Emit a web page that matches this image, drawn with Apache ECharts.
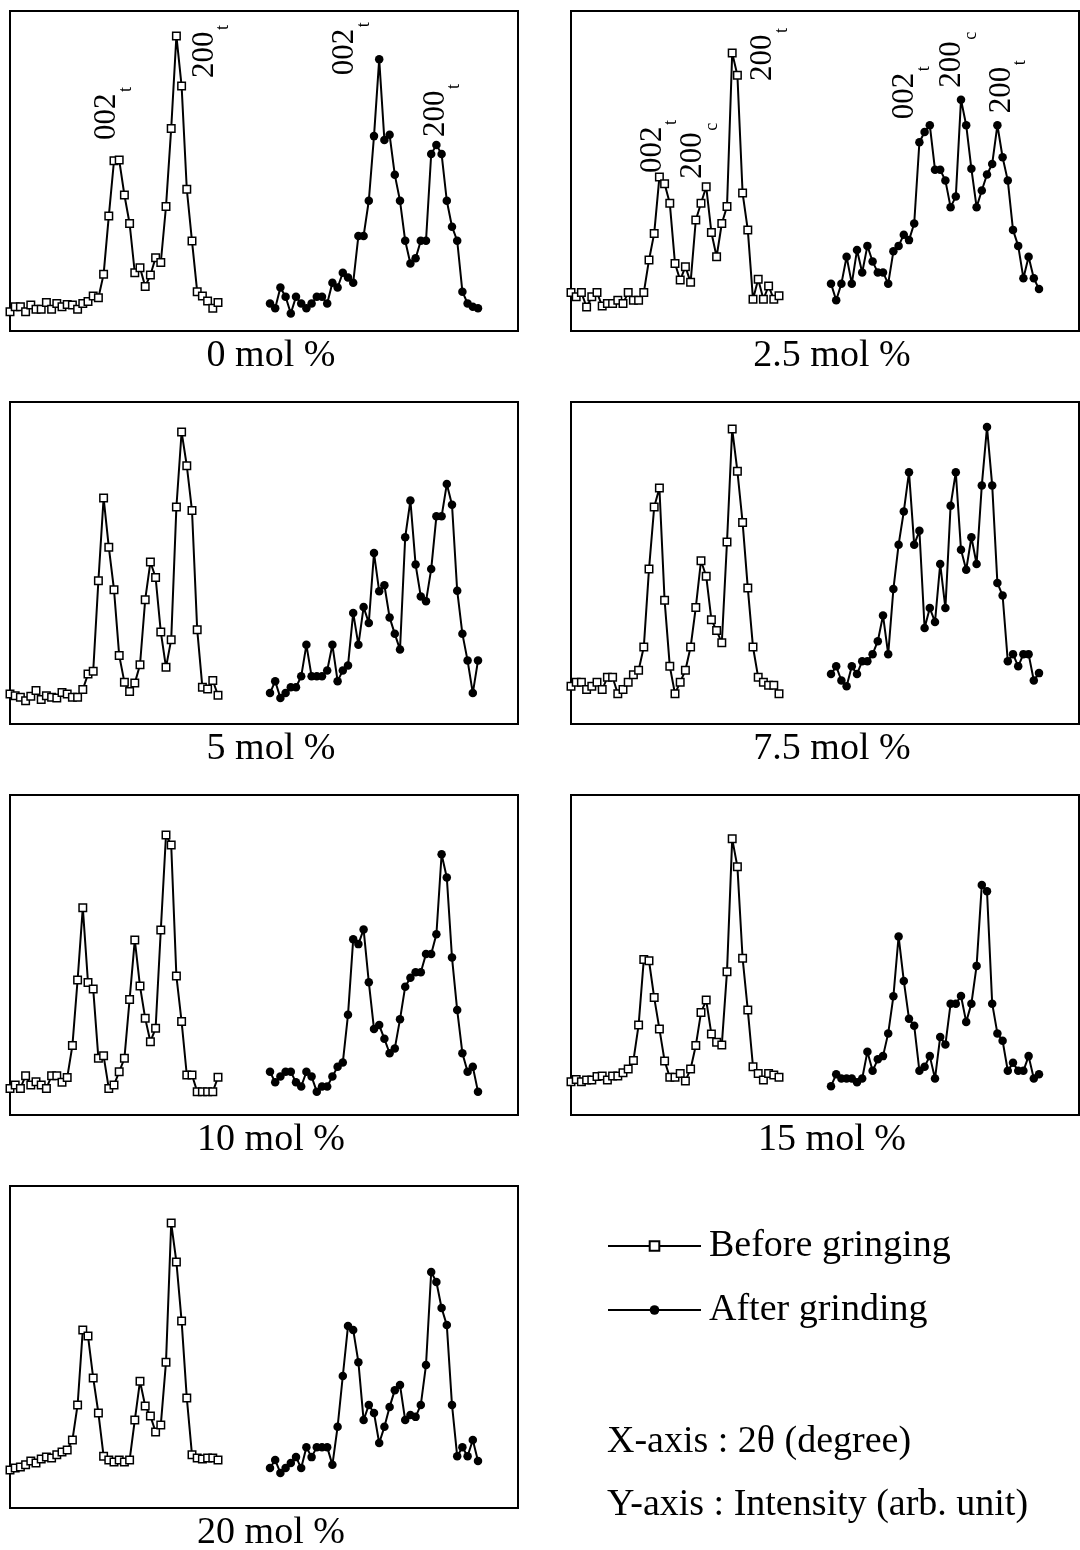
<!DOCTYPE html>
<html><head><meta charset="utf-8">
<script src="https://cdn.jsdelivr.net/npm/echarts@6/dist/echarts.min.js"></script>
<style>html,body{margin:0;padding:0;background:#fff}#c{width:1080px;height:1550px}</style>
</head><body><div id="c"></div>
<script>
// Panel captions (composition)
const categories = ['0 mol %','2.5 mol %','5 mol %','7.5 mol %','10 mol %','15 mol %','20 mol %'];
const seriesNames = ['Before gringing','After grinding'];
const axisTexts = ['X-axis : 2\u03b8 (degree)','Y-axis : Intensity (arb. unit)'];

// Intensities (arb. unit), one value per 2θ step
const before0  = [6.0,7.6,7.6,6.0,8.1,6.8,6.8,8.9,6.8,8.6,7.6,8.3,8.1,6.8,8.6,9.2,10.9,10.4,17.7,35.9,53.2,53.4,42.5,33.6,18.2,19.8,13.9,17.5,22.9,21.4,38.9,63.3,92.2,76.6,44.3,28.1,12.3,10.9,9.4,7.1,8.9];
const after0   = [8.6,7.1,13.6,10.7,5.5,10.7,8.6,7.1,8.6,10.7,10.7,8.6,15.1,13.6,18.2,16.7,15.1,29.7,29.7,40.7,60.9,84.9,59.7,61.3,48.8,40.7,28.2,21.1,22.7,28.2,28.2,55.3,58.1,55.3,40.7,32.6,28.2,12.3,8.6,7.6,7.1];
const before25 = [12.0,10.7,12.0,7.5,10.7,12.0,7.8,8.6,8.6,9.6,8.6,12.0,9.6,9.6,12.0,22.2,30.5,48.1,46.0,39.9,21.1,15.9,20.1,15.2,34.7,39.9,45.1,30.8,23.2,33.6,38.9,86.9,79.9,43.1,31.6,9.9,16.2,9.9,14.1,9.9,11.0];
const after25  = [14.8,9.6,14.8,23.2,14.8,25.3,18.3,26.6,21.7,18.3,18.3,14.8,24.9,26.6,30.1,28.4,33.6,59.0,62.2,64.3,50.4,50.4,47.0,38.7,42.0,72.3,64.3,50.7,38.7,43.9,48.9,52.2,64.3,54.3,47.0,31.6,26.6,16.5,23.2,16.5,13.1];
const before5  = [9.3,8.8,8.3,7.2,8.6,10.4,7.6,8.8,8.3,8.1,9.8,9.3,8.3,8.3,10.7,15.5,16.4,44.5,70.2,54.9,41.7,21.3,13.0,10.1,12.7,18.4,38.6,50.3,45.5,28.6,17.6,26.2,67.4,90.7,80.2,66.3,29.3,11.4,10.9,13.5,8.9];
const after5   = [9.6,13.3,8.1,9.6,11.4,11.4,14.8,24.6,14.8,14.8,14.8,16.6,24.6,13.3,16.6,18.2,34.5,24.6,36.3,31.4,53.1,41.2,43.1,33.1,28.0,23.1,58.0,69.4,49.5,39.6,38.1,48.1,64.5,64.5,74.5,68.1,41.4,28.0,19.7,9.6,19.7];
const before75 = [11.7,13.0,13.0,10.7,11.7,13.0,10.7,14.5,14.5,9.4,10.7,13.0,15.3,16.7,23.9,48.1,67.4,73.3,38.4,17.9,9.4,13.0,16.7,23.9,36.2,50.7,45.9,32.4,29.0,25.2,56.5,91.6,78.5,62.6,42.2,23.9,14.5,13.0,12.0,12.0,9.4];
const after75  = [15.5,17.9,13.5,11.7,17.9,15.5,19.5,19.5,21.7,25.7,33.7,21.7,41.9,55.7,66.0,78.2,55.7,60.0,29.8,36.0,31.7,49.7,36.0,67.8,78.2,54.1,47.9,58.0,49.7,74.1,92.2,74.1,43.8,39.9,19.5,21.7,17.9,21.7,21.7,13.5,15.8];
const before10 = [8.3,9.4,8.3,12.3,9.4,10.4,9.4,8.3,12.3,12.3,10.2,11.7,21.7,42.2,64.8,41.4,39.4,17.7,18.5,8.3,9.4,13.5,17.7,36.1,54.7,40.3,30.2,22.9,27.1,57.8,87.5,84.4,43.4,29.2,12.5,12.5,7.3,7.3,7.3,7.3,11.8];
const after10  = [13.5,10.2,12.0,13.5,13.5,10.2,8.9,13.5,12.0,7.3,8.9,8.9,12.0,15.1,16.4,31.3,54.9,53.4,58.0,41.5,26.9,28.1,23.8,19.3,20.8,29.9,40.1,42.9,44.6,44.6,50.3,50.3,56.5,81.5,74.2,49.2,32.8,19.3,13.5,15.1,7.3];
const before15 = [10.4,11.1,10.4,10.9,10.9,12.0,12.2,10.9,12.2,12.2,13.2,14.4,17.0,28.1,48.6,48.2,36.7,26.9,16.9,11.8,11.8,13.0,10.6,14.4,21.7,32.0,35.9,25.3,22.7,21.9,44.8,86.3,77.6,49.0,32.8,15.1,13.0,10.9,13.0,12.5,11.8];
const after15  = [9.0,12.7,11.4,11.4,11.4,10.2,11.4,19.8,13.8,17.4,18.4,25.5,37.1,55.8,41.9,30.1,27.9,13.8,15.1,18.4,11.4,24.4,22.0,34.8,34.8,37.2,29.1,34.8,46.6,71.9,69.9,34.8,25.5,23.2,13.8,16.3,13.8,13.8,18.4,11.4,12.7];
const before20 = [11.8,12.4,12.7,13.4,14.6,14.0,15.2,15.8,15.5,16.5,17.4,18.0,21.1,32.0,55.3,53.4,40.4,29.5,16.1,14.9,14.3,14.9,14.3,14.9,27.3,39.4,31.7,28.6,23.6,25.8,45.3,88.5,76.4,58.1,34.2,16.5,15.5,15.2,15.5,15.5,14.9];
const after20  = [12.4,14.9,10.9,12.4,14.0,15.8,12.4,18.9,15.8,18.9,18.9,18.9,13.4,25.2,41.0,56.5,55.3,45.3,27.3,32.0,29.5,20.2,25.2,31.4,36.6,38.2,27.3,28.9,28.3,32.0,44.4,73.3,70.2,62.1,56.8,32.0,16.1,18.9,16.1,21.1,14.6];

const beforeSets = [before0, before25, before5, before75, before10, before15, before20];
const afterSets  = [after0, after25, after5, after75, after10, after15, after20];

// Peak labels: panel, which series, point index, main text, subscript
const peakLabels = [
  {p:0, s:'b', i:21, t:'002', sub:'t'}, {p:0, s:'b', i:32, t:'200', sub:'t'},
  {p:0, s:'a', i:21, t:'002', sub:'t'}, {p:0, s:'a', i:32, t:'200', sub:'t'},
  {p:1, s:'b', i:17, t:'002', sub:'t'}, {p:1, s:'b', i:26, t:'200', sub:'c'}, {p:1, s:'b', i:31, t:'200', sub:'t'},
  {p:1, s:'a', i:19, t:'002', sub:'t'}, {p:1, s:'a', i:25, t:'200', sub:'c'}, {p:1, s:'a', i:32, t:'200', sub:'t'}
];
// label placement offsets (px) from the peak point
const labelOffsets = [[-12,-20],[28,42],[-34,16],[-1,-8],[-7,-4],[-13,-8],[31,28],[-25,-6],[-9,-12],[4,-12]];

const AFTER_START = 50;   // 2θ step where the after-grinding scan is drawn
const FONT = '"Liberation Serif","Times New Roman",serif';
const colLeft = [10, 571], gridW = 508;
const rowTop = [11, 402, 795, 1186], rowH = [320, 322, 320, 322];

const grids = [], xAxes = [], yAxes = [], series = [];
categories.forEach((c, p) => {
  const col = p % 2, row = Math.floor(p / 2);
  grids.push({left: colLeft[col], top: rowTop[row], width: gridW, height: rowH[row],
    show: true, borderColor: '#000', borderWidth: 2, backgroundColor: '#fff'});
  xAxes.push({type:'value', gridIndex:p, min:0, max:gridW/5.2, show:false});
  yAxes.push({type:'value', gridIndex:p, min:0, max:100, show:false});
  series.push({type:'line', name: seriesNames[0], xAxisIndex:p, yAxisIndex:p,
    data: beforeSets[p].map((v,i)=>[i, v]),
    symbol:'rect', symbolSize:7.5, showAllSymbol:true,
    lineStyle:{color:'#000', width:2}, itemStyle:{color:'#fff', borderColor:'#000', borderWidth:1.5}, z:3});
  series.push({type:'line', name: seriesNames[1], xAxisIndex:p, yAxisIndex:p,
    data: afterSets[p].map((v,i)=>[AFTER_START + i, v]),
    symbol:'circle', symbolSize:8.5, showAllSymbol:true,
    lineStyle:{color:'#000', width:2}, itemStyle:{color:'#000'}, z:3});
});

const chart = echarts.init(document.getElementById('c'), null, {renderer:'canvas'});
const graphics = [];
categories.forEach((c, p) => {
  const col = p % 2, row = Math.floor(p / 2);
  graphics.push({type:'text', x: colLeft[col] + 261, y: rowTop[row] + rowH[row] + 25,
    style:{text:c, font:'38px ' + FONT, fill:'#000', align:'center', verticalAlign:'middle'}});
});
axisTexts.forEach((t, k) => {
  graphics.push({type:'text', x: 607, y: 1442 + k*63,
    style:{text:t, font:'38px ' + FONT, fill:'#000', align:'left', verticalAlign:'middle'}});
});

chart.setOption({
  animation:false,
  backgroundColor:'#fff',
  grid: grids, xAxis: xAxes, yAxis: yAxes, series: series,
  legend: {data: seriesNames, orient:'vertical', left:607, top:1227, padding:0, itemWidth:93, itemHeight:12, itemGap:26,
    textStyle:{fontSize:38, fontFamily:FONT, color:'#000', padding:[0,0,0,3]}, selectedMode:false},
  graphic: graphics
});

// peak annotations anchored on data points
peakLabels.forEach((L, k) => {
  const arr = L.s === 'b' ? beforeSets[L.p] : afterSets[L.p];
  const x = (L.s === 'b' ? 0 : AFTER_START) + L.i;
  const pt = chart.convertToPixel({gridIndex: L.p}, [x, arr[L.i]]);
  const off = labelOffsets[k];
  graphics.push({type:'group', x: pt[0] + off[0], y: pt[1] + off[1], rotation: Math.PI/2, children:[
    {type:'text', x:0, y:0, style:{text:L.t, font:'31px ' + FONT, fill:'#000', align:'left', verticalAlign:'middle'}},
    {type:'text', x:48, y:19, style:{text:L.sub, font:'18px ' + FONT, fill:'#000', align:'left', verticalAlign:'middle'}}
  ]});
});
chart.setOption({graphic: graphics});
</script></body></html>
